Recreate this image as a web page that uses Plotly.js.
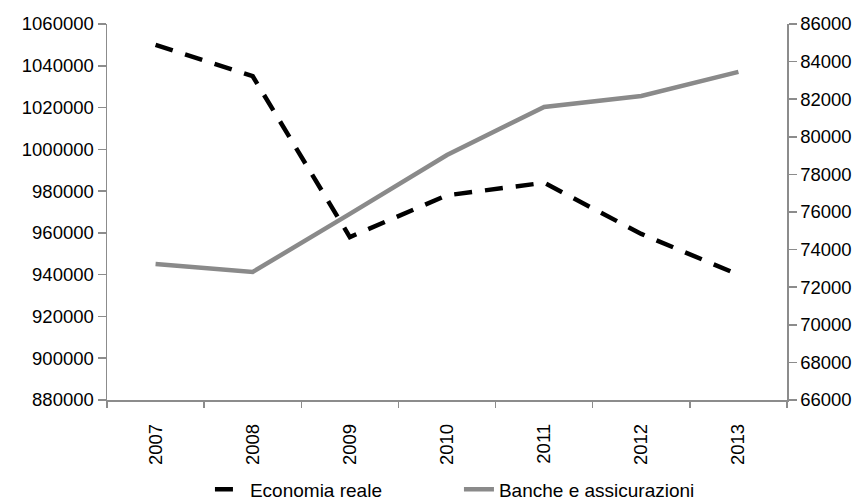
<!DOCTYPE html>
<html>
<head>
<meta charset="utf-8">
<script src="https://cdn.plot.ly/plotly-3.0.1.min.js"></script>
<style>html,body{margin:0;padding:0;background:#fff;}#chart{width:864px;height:504px;}</style>
</head>
<body>
<div id="chart"></div>
<script>
const years = ["2007", "2008", "2009", "2010", "2011", "2012", "2013"];
const economiaReale = [1050000, 1035000, 958000, 978000, 984000, 959500, 940000];
const bancheAssicurazioni = [73230, 72810, 75900, 79030, 81590, 82170, 83450];
const leftTicks = [880000, 900000, 920000, 940000, 960000, 980000, 1000000, 1020000, 1040000, 1060000];
const rightTicks = [66000, 68000, 70000, 72000, 74000, 76000, 78000, 80000, 82000, 84000, 86000];

const font = {family: "Liberation Sans, Arial, sans-serif", size: 18.5, color: "#000"};
const axisGray = "#8c8c8c";

const traces = [
  {
    type: "scatter", mode: "lines", name: "Economia reale",
    x: years, y: economiaReale, yaxis: "y",
    line: {color: "#000000", width: 4.5, dash: "18px,13px"}
  },
  {
    type: "scatter", mode: "lines", name: "Banche e assicurazioni",
    x: years, y: bancheAssicurazioni, yaxis: "y2",
    line: {color: "#8a8a8a", width: 4.5}
  }
];

const layout = {
  width: 864, height: 504,
  margin: {l: 107, r: 77, t: 24, b: 104},
  paper_bgcolor: "#fff", plot_bgcolor: "#fff",
  font: font,
  showlegend: true,
  legend: {
    orientation: "h", xref: "container", x: 0.243, xanchor: "left",
    yref: "container", y: 0.029, yanchor: "middle",
    font: {family: font.family, size: 19, color: "#000"},
    traceorder: "normal", itemwidth: 30, entrywidth: 204, entrywidthmode: "pixels"
  },
  xaxis: {
    type: "category", tickvals: years, ticktext: years,
    tickson: "boundaries", ticks: "outside", ticklen: 6, tickcolor: axisGray, tickwidth: 1.5,
    showline: true, linecolor: axisGray, linewidth: 1.5,
    showgrid: false, zeroline: false, tickangle: -90, ticklabelstandoff: 15,
    range: [-0.5, 6.5], fixedrange: true, automargin: false
  },
  yaxis: {
    range: [880000, 1060000], tickvals: leftTicks, ticktext: leftTicks.map(String),
    ticks: "outside", ticklen: 8, tickcolor: axisGray, tickwidth: 1.5,
    showline: true, linecolor: axisGray, linewidth: 1.5,
    showgrid: false, zeroline: false, automargin: false
  },
  yaxis2: {
    overlaying: "y", side: "right",
    range: [66000, 86000], tickvals: rightTicks, ticktext: rightTicks.map(String),
    ticks: "outside", ticklen: 8, tickcolor: axisGray, tickwidth: 1.5,
    showline: true, linecolor: axisGray, linewidth: 1.5,
    showgrid: false, zeroline: false, automargin: false
  }
};

Plotly.newPlot("chart", traces, layout, {staticPlot: true, displayModeBar: false});
</script>
</body>
</html>
